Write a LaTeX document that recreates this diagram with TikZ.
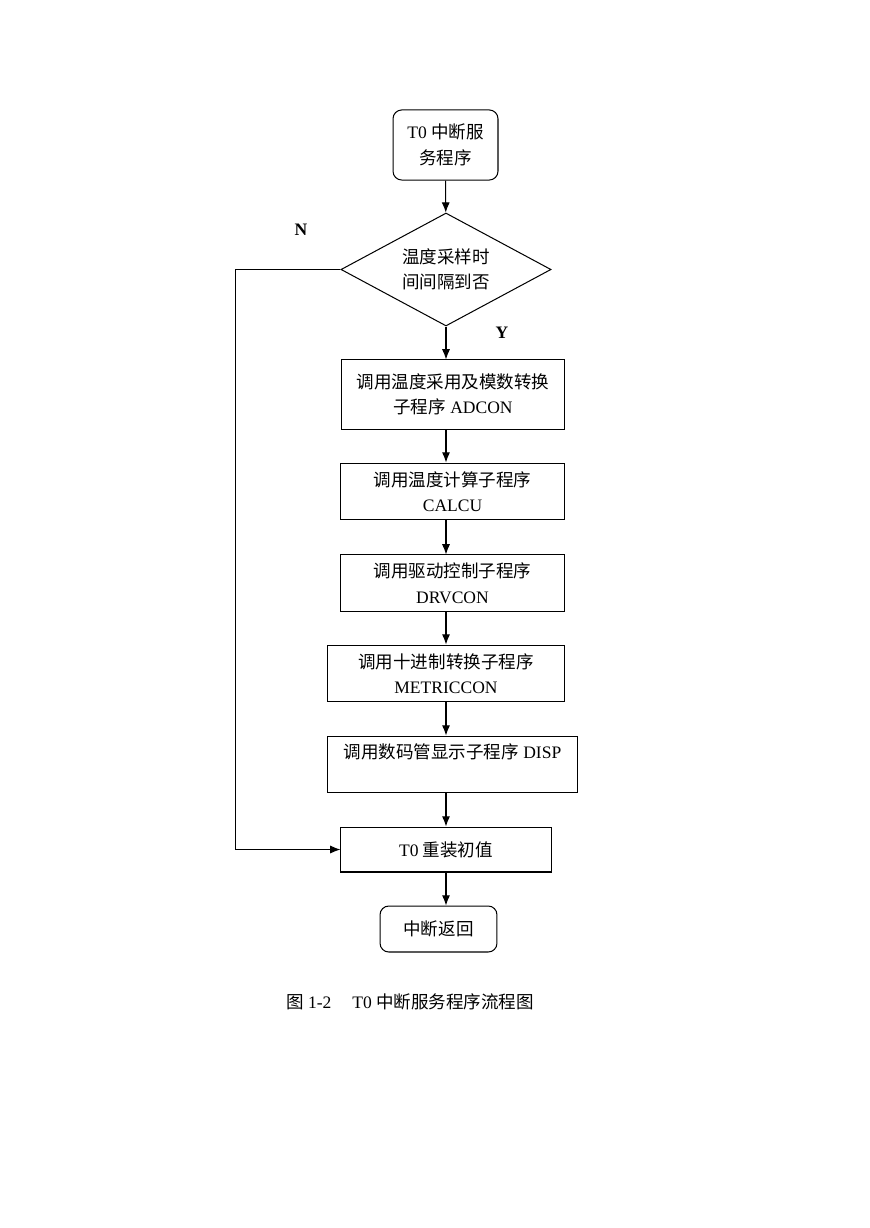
\documentclass[tikz,border=0pt]{standalone}
\usepackage{fontspec}
\setmainfont{Liberation Serif}
\newfontfamily\cjk{Noto Sans CJK SC}
\usepackage{tikz}
\usetikzlibrary{positioning, arrows.meta, shapes.geometric, calc}
\newcommand{\zh}[1]{{\cjk #1}}
\tikzstyle{arrow} = [line width=0.7pt, black, -{Latex[length=7pt, width=5.5pt]}]
\tikzstyle{terminal} = [rectangle, rounded corners=6pt, draw, line width=0.7pt, align=center, font=\fontsize{12}{17.5}\selectfont]
\tikzstyle{process} = [rectangle, draw, line width=0.7pt, align=center, font=\fontsize{12}{17.5}\selectfont]
\tikzstyle{decision} = [diamond, draw, line width=0.7pt, aspect=1.86, inner sep=0pt, align=center, font=\fontsize{12}{17.5}\selectfont]
\tikzset{
  flag/.style={font=\fontsize{12}{14}\selectfont\bfseries},
  caption/.style={font=\fontsize{12}{14}\selectfont}
}
\begin{document}
\begin{tikzpicture}[x=0.685pt, y=-0.685pt]
                \useasboundingbox (0,0) rectangle (869,1228);
                % Start
                \node[terminal, minimum width=71.9pt, minimum height=48pt] (start) at (445.5,145) {T0 \zh{中断服}\\\zh{务程序}};
                
                % Decision
                \node[decision, minimum width=143.9pt, minimum height=77.4pt] (dec) at (446,269.5) {\zh{温度采样时}\\\zh{间间隔到否}};
                \node[flag] (no) at (301,230) {N};
                \node[flag] (yes) at (502,333) {Y};
                
                % Subroutine calls
                \node[process, minimum width=153.4pt, minimum height=47.3pt] (adcon) at (453,394.5) {\zh{调用温度采用及模数转换}\\\zh{子程序} ADCON};
                \node[process, minimum width=152.8pt, minimum height=39pt] (calcu) at (452.5,491.5) {\zh{调用温度计算子程序}\\CALCU};
                \node[process, minimum width=152.8pt, minimum height=38.4pt] (drvcon) at (452.5,583) {\zh{调用驱动控制子程序}\\DRVCON};
                \node[process, minimum width=161.7pt, minimum height=39pt] (metric) at (446,673.5) {\zh{调用十进制转换子程序}\\METRICCON};
                \node[process, minimum width=170.6pt, minimum height=39pt] (disp) at (452.5,764.5) {};
                \node[caption] (disptext) at (452.5,752) {\zh{调用数码管显示子程序} DISP};
                \node[process, minimum width=143.9pt, minimum height=30.8pt] (reload) at (446,849.5) {T0 \zh{重装初值}};
                
                % End
                \node[terminal, minimum width=80.1pt, minimum height=31.5pt] (ret) at (438.5,929) {\zh{中断返回}};
                
                % Connectors
                \draw[arrow] (start) -- (dec);
                \draw[arrow] (dec.south) -- (adcon.north -| dec);
                \draw[arrow] (adcon.south -| dec) -- (calcu.north -| dec);
                \draw[arrow] (calcu.south -| dec) -- (drvcon.north -| dec);
                \draw[arrow] (drvcon.south -| dec) -- (metric.north -| dec);
                \draw[arrow] (metric.south -| dec) -- (disp.north -| dec);
                \draw[arrow] (disp.south -| dec) -- (reload.north -| dec);
                \draw[arrow] (reload.south -| dec) -- (ret.north -| dec);
                \draw[arrow] (dec.west) -- ++(-105,0) |- (reload.west);
                
                \node[caption] (title) at (410,1002) {\zh{图} 1-2\hspace{1.2em}T0 \zh{中断服务程序流程图}};
            \end{tikzpicture}
\end{document}
